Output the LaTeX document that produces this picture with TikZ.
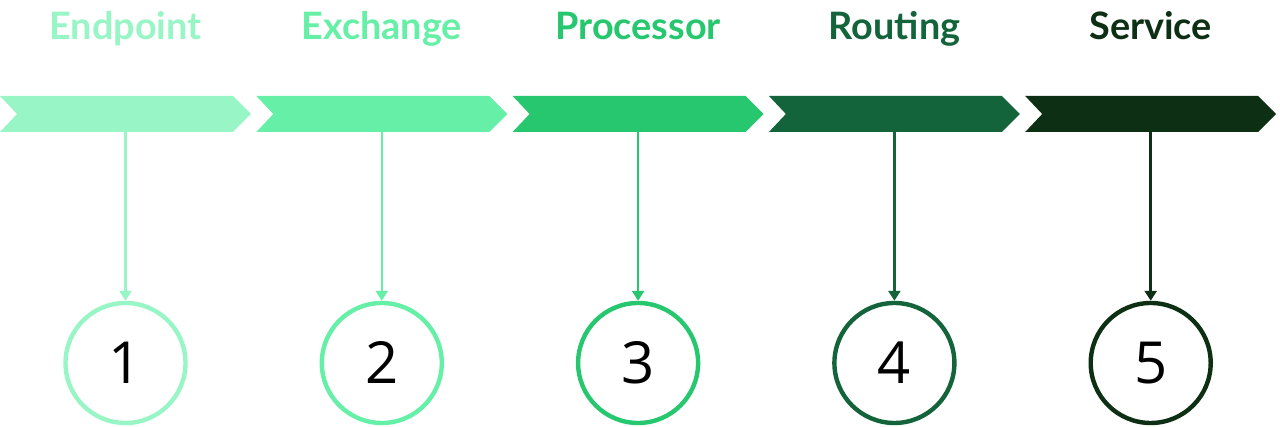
\documentclass[tikz,border=0pt]{standalone}
\usepackage{fontspec}
\setmainfont{Lato}
\newfontfamily\digitfont{Open Sans}
\usetikzlibrary{arrows.meta}
\definecolor{cA}{HTML}{98F5C5}
\definecolor{cB}{HTML}{66EFA6}
\definecolor{cC}{HTML}{26C76E}
\definecolor{cD}{HTML}{13643A}
\definecolor{cE}{HTML}{0D3014}
\begin{document}
\begin{tikzpicture}[x=1pt,y=1pt,
  lbl/.style={anchor=base,font=\fontsize{37.8}{40}\selectfont\bfseries},
  numcirc/.style={circle,draw,line width=4.4pt,minimum size=120pt,inner sep=0pt,fill=white,
    font=\digitfont\fontsize{58}{60}\selectfont,text=black},
  conn/.style={line width=2.6pt,-{Triangle[width=12pt,length=10pt]}}]
\useasboundingbox (0,0) rectangle (1280,427);
\foreach \i/\c/\t in {1/cA/Endpoint,2/cB/Exchange,3/cC/Processor,4/cD/Routing,5/cE/Service}{
  \pgfmathsetmacro{\L}{256.3*(\i-1)}
  \fill[\c] (\L,331) -- (\L+233,331) -- (\L+251,313) -- (\L+233,295) -- (\L,295) -- (\L+17,313) -- cycle;
  \coordinate (top\i) at (\L+125.5,295);
  \node[lbl,text=\c] (lab\i) at (\L+125.5,387) {\t};
  \node[numcirc,draw=\c] (n\i) at (\L+125.5,64) {\i};
  \draw[conn,\c] (top\i) -- (n\i.north);
}
\end{tikzpicture}
\end{document}
